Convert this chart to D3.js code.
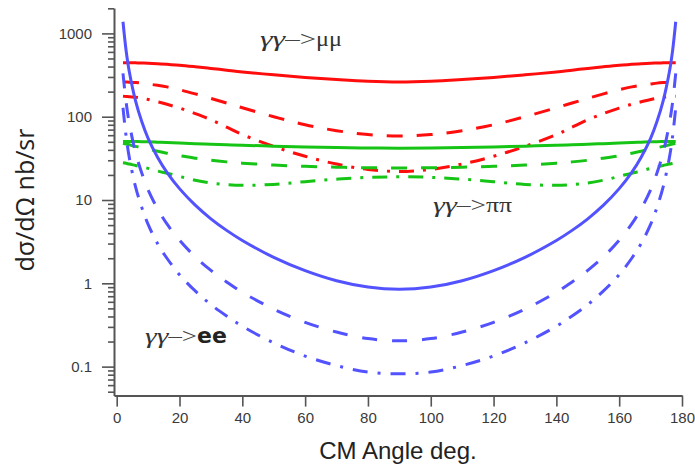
<!DOCTYPE html>
<html><head><meta charset="utf-8">
<script src="https://cdn.jsdelivr.net/npm/d3@7"></script>
<style>body{margin:0;background:#fff}svg{display:block}</style>
</head><body>
<svg id="chart" width="695" height="467"></svg>
<script>
// ---- data ----
const angles = [2,3,4,6,8,10,13,16,20,25,30,35,40,50,60,70,80,90,100,110,120,130,140,145,150,155,160,164,167,170,172,174,176,177,178];

const muSolid   = [445,445,444,443,441,439,433,425,415,398,380,362,345,318,296,279,266,261,266,279,296,318,345,362,380,398,415,425,433,439,441,443,444,445,445];
const muDashed  = [262,261,260,257,253,247,238,228,211,188,166,146,128,100,80,68,61,58.5,61,68,80,100,128,146,166,188,211,228,238,247,253,257,260,261,262];
const muDashDot = [176,175,174,171,167,161,151,141,127,109,92,75,61,44,33.5,27,23.3,22,23.3,27,33.5,44,61,75,92,109,127,141,151,161,167,171,174,175,176];

const piSolid   = [50.5,50.5,50.4,50.3,50.1,49.9,49.5,49.0,48.3,47.5,46.8,46.1,45.5,44.3,43.3,42.6,42.1,41.9,42.1,42.6,43.3,44.3,45.5,46.1,46.8,47.5,48.3,49.0,49.5,49.9,50.1,50.3,50.4,50.5,50.5];
const piDashed  = [48,47,46,44,42.5,41,38.5,36.5,34,31.8,30,28.7,27.7,26.3,25.4,24.8,24.4,24.3,24.4,24.8,25.4,26.3,27.7,28.7,30,31.8,34,36.5,38.5,41,42.5,44,46,47,48];
const piDashDot = [28,27.6,27,26,25,24,22.3,21,19.2,17.3,16,15.3,15,15.4,16.6,17.8,18.7,19,18.7,17.8,16.6,15.4,15,15.3,16,17.3,19.2,21,22.3,24,25,26,27,27.6,28];

const eeSolid   = [1380,620,349,155,87,55,32.7,21.5,13.7,8.67,5.95,4.32,3.27,2.05,1.42,1.075,0.903,0.85,0.903,1.075,1.42,2.05,3.27,4.32,5.95,8.67,13.7,21.5,32.7,55,87,155,349,620,1380];
const eeDashed  = [331,149,84,37,21,13.2,7.85,5.16,3.29,2.08,1.43,1.04,0.78,0.49,0.34,0.26,0.217,0.204,0.217,0.26,0.34,0.49,0.78,1.04,1.43,2.08,3.29,5.16,7.85,13.2,21,37,84,149,331];
const eeDashDot = [128,58,32.5,14.4,8.1,5.1,3.0,2.0,1.27,0.81,0.555,0.405,0.305,0.193,0.134,0.103,0.086,0.082,0.086,0.103,0.134,0.193,0.305,0.405,0.555,0.81,1.27,2.0,3.0,5.1,8.1,14.4,32.5,58,128];

const xTicks = [0,20,40,60,80,100,120,140,160,180];
const yTicks = [0.1,1,10,100,1000];
const yTickLabels = ["0.1","1","10","100","1000"];

const labelPrefix = "γγ";
const labelArrow = "–>";
const labelFinal = ["μμ","ππ","ee"];

// ---- drawing ----
const svg = d3.select("#chart");
const x = d3.scaleLinear().domain([-0.86,180]).range([114,682]);
const y = d3.scaleLog().domain([0.0449,2018]).range([395.6,8]);

const red="#ff0d0d", green="#16c416", blue="#5252ff";
const series = [
  {v:muSolid,c:red,d:null},{v:muDashed,c:red,d:"16,14"},{v:muDashDot,c:red,d:"15,9,3,9"},
  {v:piSolid,c:green,d:null},{v:piDashed,c:green,d:"16,14"},{v:piDashDot,c:green,d:"15,9,3,9"},
  {v:eeSolid,c:blue,d:null},{v:eeDashed,c:blue,d:"15,15"},{v:eeDashDot,c:blue,d:"15,10,3,10"}
];
const line = d3.line().x((d,i)=>x(angles[i])).y(d=>y(d)).curve(d3.curveCatmullRom.alpha(0.5));

// axes
const axisColor="#555";
const minor=[];
for(let e=-2;e<=3;e++) for(let k=2;k<=9;k++){const v=k*Math.pow(10,e); if(v>=0.0449&&v<=2018) minor.push(v);}
const gy=svg.append("g").attr("transform","translate(114,0)");
gy.call(d3.axisLeft(y).tickValues(yTicks).tickFormat((d,i)=>yTickLabels[i]).tickSize(12).tickSizeOuter(0).tickPadding(10));
const gym=svg.append("g").attr("transform","translate(114,0)");
gym.call(d3.axisLeft(y).tickValues(minor).tickFormat("").tickSize(6).tickSizeOuter(0));
gym.select(".domain").remove();
const gx=svg.append("g").attr("transform","translate(0,395.6)");
gx.call(d3.axisBottom(x).tickValues(xTicks).tickSize(11).tickSizeOuter(0).tickPadding(6));
[gy,gym,gx].forEach(g=>{
  g.selectAll(".domain").attr("stroke",axisColor).attr("stroke-width",2);
  g.selectAll(".tick line").attr("stroke",axisColor).attr("stroke-width",1.6);
  g.selectAll("text").attr("fill","#3a3a3a").style("font-family","Liberation Sans, Arial, sans-serif").style("font-size","15px");
});

// curves
svg.append("g").selectAll("path").data(series).join("path")
  .attr("d",s=>line(s.v)).attr("fill","none").attr("stroke",s=>s.c)
  .attr("stroke-width",3).attr("stroke-dasharray",s=>s.d);

// titles
svg.append("text").attr("x",398).attr("y",459).attr("text-anchor","middle")
  .style("font-family","Liberation Sans, Arial, sans-serif").style("font-size","24px").attr("fill","#222")
  .text("CM Angle deg.");
svg.append("text").attr("transform","translate(34,200) rotate(-90)").attr("text-anchor","middle")
  .style("font-family","Open Sans, sans-serif").style("font-size","25px").attr("fill","#222")
  .text("dσ/dΩ nb/sr");

// process labels
function procLabel(i,xx,yy,prefW,finW,bold){
  const t = svg.append("text").attr("x",xx).attr("y",yy).style("font-size","22px").attr("fill","#333")
    .style("font-family","Liberation Serif, serif");
  t.append("tspan").style("font-style","italic").attr("textLength",prefW*0.45).attr("lengthAdjust","spacingAndGlyphs").text(labelPrefix);
  t.append("tspan").attr("textLength",prefW*0.55).attr("lengthAdjust","spacingAndGlyphs").attr("fill","#444").text(labelArrow);
  const f = t.append("tspan").text(labelFinal[i]);
  if(bold){ f.style("font-family","DejaVu Sans, sans-serif").style("font-weight","bold").attr("fill","#222"); }
  else { f.attr("textLength",finW).attr("lengthAdjust","spacingAndGlyphs"); }
}
procLabel(0,260,46,56,26,false);
procLabel(1,433,212,53,26,false);
procLabel(2,145,343,52,0,true);
</script>
</body></html>
